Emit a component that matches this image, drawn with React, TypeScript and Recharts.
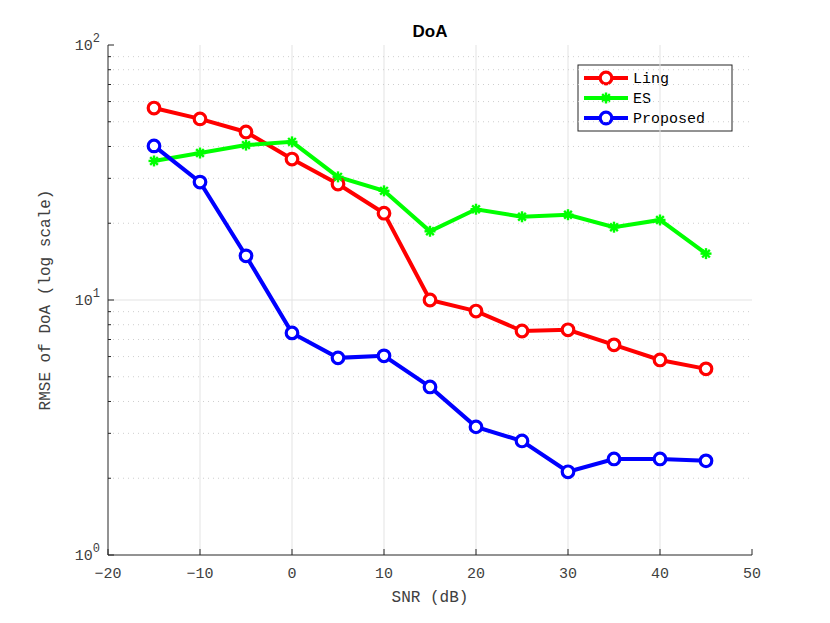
import React from "react";
import {
  LineChart,
  Line,
  XAxis,
  YAxis,
  ReferenceLine,
} from "recharts";

const snr = [-15, -10, -5, 0, 5, 10, 15, 20, 25, 30, 35, 40, 45];
const ling = [56.6, 51.3, 45.6, 35.7, 28.5, 21.9, 10.0, 9.05, 7.56, 7.64, 6.67, 5.82, 5.37];
const es = [35.1, 37.7, 40.5, 41.7, 30.4, 26.8, 18.6, 22.7, 21.2, 21.6, 19.3, 20.6, 15.2];
const proposed = [40.2, 29.0, 14.9, 7.43, 5.93, 6.04, 4.56, 3.18, 2.8, 2.12, 2.38, 2.38, 2.34];

const xTicks = [-20, -10, 0, 10, 20, 30, 40, 50];
const majorY = [1, 10, 100];
const minorY = [2, 3, 4, 5, 6, 7, 8, 9, 20, 30, 40, 50, 60, 70, 80, 90];
const allY = [...majorY, ...minorY].sort((a, b) => a - b);

const data = snr.map((s, i) => ({
  snr: s,
  ling: ling[i],
  es: es[i],
  proposed: proposed[i],
}));

const MONO = "'Courier New', 'Liberation Mono', monospace";
const AXIS = "#262626";
const TEXT = "#404040";

const XTick = (props: any) => {
  const { x, y, payload } = props;
  return (
    <g>
      <line x1={x} x2={x} y1={y} y2={y - 6} stroke={AXIS} />
      <text x={x} y={y + 23} textAnchor="middle" fontFamily={MONO} fontSize={15} fill={TEXT}>
        {payload.value < 0 ? "\u2212" + Math.abs(payload.value) : payload.value}
      </text>
    </g>
  );
};

const TopTick = (props: any) => {
  const { x, y } = props;
  return <line x1={x} x2={x} y1={y} y2={y + 6} stroke={AXIS} />;
};

const YTick = (props: any) => {
  const { x, y, payload } = props;
  const major = majorY.includes(payload.value);
  const exp = Math.round(Math.log10(payload.value));
  return (
    <g>
      <line x1={x} x2={x + (major ? 6 : 3)} y1={y} y2={y} stroke={AXIS} />
      {major && (
        <text x={x - 8} y={y + 5} textAnchor="end" fontFamily={MONO} fontSize={15} fill={TEXT}>
          10
          <tspan dy={-8} fontSize={12}>
            {exp}
          </tspan>
        </text>
      )}
    </g>
  );
};

const RightTick = (props: any) => {
  const { x, y, payload } = props;
  const major = majorY.includes(payload.value);
  return <line x1={x} x2={x - (major ? 6 : 3)} y1={y} y2={y} stroke={AXIS} />;
};

const CircleDot = (color: string) => (props: any) => {
  const { cx, cy, index } = props;
  if (cx == null || cy == null) return null;
  return <circle key={index} cx={cx} cy={cy} r={5.8} fill="#fff" stroke={color} strokeWidth={3.2} />;
};

const StarDot = (props: any) => {
  const { cx, cy, index } = props;
  if (cx == null || cy == null) return null;
  const r = 5.5;
  const d = r * 0.7;
  return (
    <g key={index} stroke="#00ff00" strokeWidth={2.4}>
      <line x1={cx - r} x2={cx + r} y1={cy} y2={cy} />
      <line x1={cx} x2={cx} y1={cy - r} y2={cy + r} />
      <line x1={cx - d} x2={cx + d} y1={cy - d} y2={cy + d} />
      <line x1={cx - d} x2={cx + d} y1={cy + d} y2={cy - d} />
    </g>
  );
};

const legendItems = [
  { name: "Ling", color: "#ff0000", star: false },
  { name: "ES", color: "#00ff00", star: true },
  { name: "Proposed", color: "#0000ff", star: false },
];

export default function App() {
  return (
    <div style={{ position: "fixed", top: 0, left: 0, width: 830, height: 623, background: "#fff" }}>
      <LineChart
        width={830}
        height={623}
        data={data}
        margin={{ top: 45, right: 78, bottom: 0, left: 0 }}
      >
        {/* grid: solid at major ticks, dotted at minor log ticks */}
        {xTicks.slice(1, -1).map((t) => (
          <ReferenceLine key={"x" + t} x={t} xAxisId="bottom" yAxisId="left" stroke="#e3e3e3" />
        ))}
        {minorY.map((v) => (
          <ReferenceLine
            key={"m" + v}
            y={v}
            xAxisId="bottom"
            yAxisId="left"
            stroke="#cfcfcf"
            strokeDasharray="1 4"
          />
        ))}
        <ReferenceLine y={10} xAxisId="bottom" yAxisId="left" stroke="#e3e3e3" />
        <XAxis
          xAxisId="bottom"
          dataKey="snr"
          type="number"
          domain={[-20, 50]}
          ticks={xTicks}
          height={68}
          tickSize={0}
          tickMargin={0}
          tickLine={false}
          tick={<XTick />}
          stroke={AXIS}
          interval={0}
          label={{
            value: "SNR (dB)",
            position: "insideTop",
            offset: 36,
            fontFamily: MONO,
            fontSize: 16,
            fill: TEXT,
          }}
        />
        <XAxis
          xAxisId="top"
          orientation="top"
          dataKey="snr"
          type="number"
          domain={[-20, 50]}
          ticks={xTicks}
          height={0}
          tickSize={0}
          tickMargin={0}
          tickLine={false}
          tick={<TopTick />}
          stroke={AXIS}
          interval={0}
        />
        <YAxis
          yAxisId="left"
          scale="log"
          domain={[1, 100]}
          ticks={allY}
          allowDataOverflow
          width={108}
          tickSize={0}
          tickMargin={0}
          tickLine={false}
          tick={<YTick />}
          stroke={AXIS}
          interval={0}
          label={{
            content: (p: any) => {
              const vb = p.viewBox;
              const cx = vb.x + 50;
              const cy = vb.y + vb.height / 2;
              return (
                <text
                  x={cx}
                  y={cy}
                  transform={`rotate(-90, ${cx}, ${cy})`}
                  textAnchor="middle"
                  fontFamily={MONO}
                  fontSize={16}
                  fill={TEXT}
                >
                  RMSE of DoA (log scale)
                </text>
              );
            },
          }}
        />
        <YAxis
          yAxisId="right"
          orientation="right"
          scale="log"
          domain={[1, 100]}
          ticks={allY}
          allowDataOverflow
          width={0}
          tickSize={0}
          tickMargin={0}
          tickLine={false}
          tick={<RightTick />}
          stroke={AXIS}
          interval={0}
        />
        <Line
          xAxisId="bottom"
          yAxisId="left"
          dataKey="ling"
          stroke="#ff0000"
          strokeWidth={4}
          dot={CircleDot("#ff0000")}
          isAnimationActive={false}
        />
        <Line
          xAxisId="bottom"
          yAxisId="left"
          dataKey="es"
          stroke="#00ff00"
          strokeWidth={4}
          dot={StarDot}
          isAnimationActive={false}
        />
        <Line
          xAxisId="bottom"
          yAxisId="left"
          dataKey="proposed"
          stroke="#0000ff"
          strokeWidth={4}
          dot={CircleDot("#0000ff")}
          isAnimationActive={false}
        />
        <text
          x={430}
          y={37}
          textAnchor="middle"
          fontFamily="'Liberation Sans', Arial, sans-serif"
          fontWeight="bold"
          fontSize={17}
          fill="#000"
        >
          DoA
        </text>
        <g>
          <rect x={578} y={65} width={154} height={66} fill="#fff" stroke={AXIS} strokeWidth={1} />
          {legendItems.map((it, i) => {
            const y = 78 + i * 20;
            return (
              <g key={it.name}>
                <line x1={584} x2={628} y1={y} y2={y} stroke={it.color} strokeWidth={4} />
                {it.star ? (
                  <StarDot cx={606} cy={y} index={i} />
                ) : (
                  <circle cx={606} cy={y} r={5.8} fill="#fff" stroke={it.color} strokeWidth={3.2} />
                )}
                <text x={633} y={y + 5} fontFamily={MONO} fontSize={15} fill="#000">
                  {it.name}
                </text>
              </g>
            );
          })}
        </g>
      </LineChart>
    </div>
  );
}
